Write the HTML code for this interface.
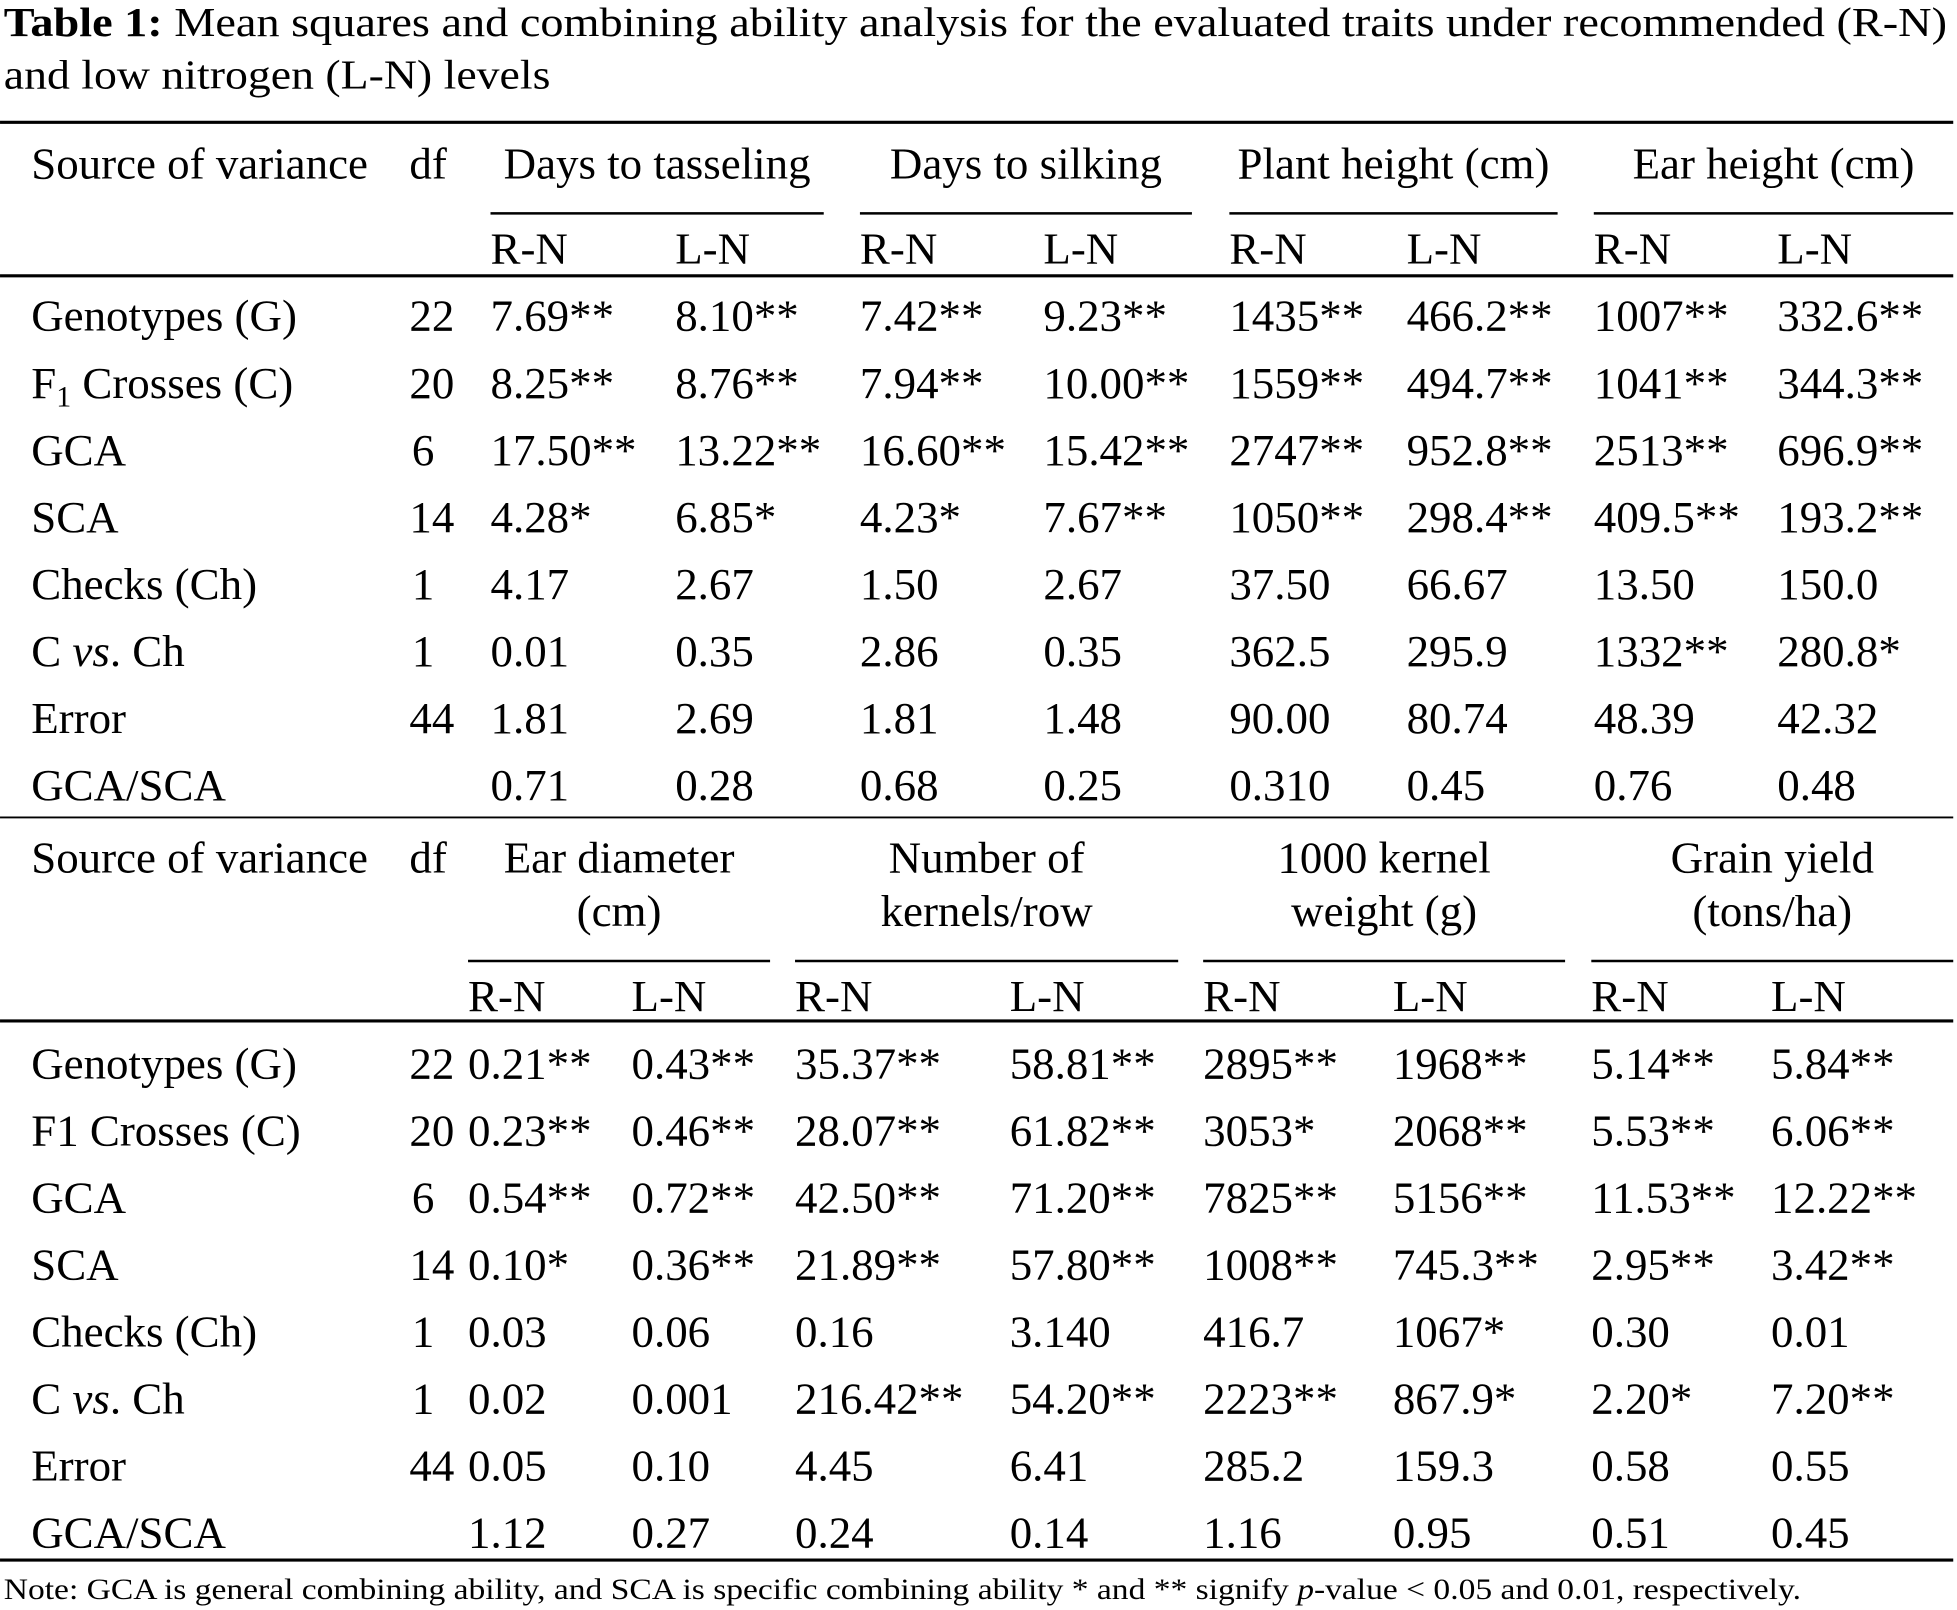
<!DOCTYPE html>
<html><head><meta charset="utf-8"><style>
html,body{margin:0;padding:0;background:#fff;}
svg{display:block;font-family:"Liberation Serif","Times New Roman",serif;}
</style></head><body>
<svg id="s" width="1957" height="1610" viewBox="0 0 1568 1290" xmlns="http://www.w3.org/2000/svg">
<rect width="1568" height="1290" fill="#fff"/>
<text x="3" y="29" font-size="33" textLength="1557" lengthAdjust="spacingAndGlyphs"><tspan font-weight="bold">Table 1:</tspan> Mean squares and combining ability analysis for the evaluated traits under recommended (R-N)</text>
<text x="3" y="71" font-size="33" textLength="438" lengthAdjust="spacingAndGlyphs">and low nitrogen (L-N) levels</text>
<g id="g" font-size="36" fill="#000"></g>
<text x="3" y="1281" font-size="24" textLength="1440" lengthAdjust="spacingAndGlyphs">Note: GCA is general combining ability, and SCA is specific combining ability * and ** signify <tspan font-style="italic">p</tspan>-value &lt; 0.05 and 0.01, respectively.</text>
</svg>
<script>
const sources=["Genotypes (G)","F1 Crosses (C)","GCA","SCA","Checks (Ch)","C vs. Ch","Error","GCA/SCA"];
const dfs=["22","20","6","14","1","1","44",""];
const top1=[
["7.69**","8.10**","7.42**","9.23**","1435**","466.2**","1007**","332.6**"],
["8.25**","8.76**","7.94**","10.00**","1559**","494.7**","1041**","344.3**"],
["17.50**","13.22**","16.60**","15.42**","2747**","952.8**","2513**","696.9**"],
["4.28*","6.85*","4.23*","7.67**","1050**","298.4**","409.5**","193.2**"],
["4.17","2.67","1.50","2.67","37.50","66.67","13.50","150.0"],
["0.01","0.35","2.86","0.35","362.5","295.9","1332**","280.8*"],
["1.81","2.69","1.81","1.48","90.00","80.74","48.39","42.32"],
["0.71","0.28","0.68","0.25","0.310","0.45","0.76","0.48"]];
const bot1=[
["0.21**","0.43**","35.37**","58.81**","2895**","1968**","5.14**","5.84**"],
["0.23**","0.46**","28.07**","61.82**","3053*","2068**","5.53**","6.06**"],
["0.54**","0.72**","42.50**","71.20**","7825**","5156**","11.53**","12.22**"],
["0.10*","0.36**","21.89**","57.80**","1008**","745.3**","2.95**","3.42**"],
["0.03","0.06","0.16","3.140","416.7","1067*","0.30","0.01"],
["0.02","0.001","216.42**","54.20**","2223**","867.9*","2.20*","7.20**"],
["0.05","0.10","4.45","6.41","285.2","159.3","0.58","0.55"],
["1.12","0.27","0.24","0.14","1.16","0.95","0.51","0.45"]];
const g=document.getElementById('g');const NS="http://www.w3.org/2000/svg";
function t(x,y,s,name,anchor){const e=document.createElementNS(NS,'text');e.setAttribute('x',x);e.setAttribute('y',y);if(anchor)e.setAttribute('text-anchor',anchor);


if(s==="F1 Crosses (C)"&&name.indexOf('top')===0){e.innerHTML='F<tspan font-size="24" dy="7">1</tspan><tspan dy="-7"> Crosses (C)</tspan>';}
else if(s==="C vs. Ch"){e.innerHTML='C <tspan font-style="italic">vs</tspan>. Ch';}
else e.textContent=s;g.appendChild(e);return e;}
function line(x1,x2,y,w,name){const l=document.createElementNS(NS,'line');l.setAttribute('x1',x1);l.setAttribute('x2',x2);l.setAttribute('y1',y);l.setAttribute('y2',y);l.setAttribute('stroke','#000');l.setAttribute('stroke-width',w);


g.appendChild(l);}
function section(pre,hy,groups,cols,ranges,rny,rowY0,data,twoLine){
 t(25,hy,"Source of variance",pre+"-source-header");t(328,hy,"df",pre+"-df-header");
 groups.forEach((gr,i)=>{const cx=(ranges[i][0]+ranges[i][1])/2;
  if(twoLine){t(cx,hy,gr[0],pre+"-group-header","middle");t(cx,hy+43,gr[1],pre+"-group-header","middle");}
  else t(cx,hy,gr,pre+"-group-header","middle");
  line(ranges[i][0],ranges[i][1],twoLine?hy+71:hy+28,2,pre+"-group-underline");});
 cols.forEach((x,i)=>t(x,rny,i%2?"L-N":"R-N",pre+"-level-header"));
 sources.forEach((s,r)=>{const y=rowY0+r*53.7;t(25,y,s,pre+"-source-label");if(dfs[r])t(dfs[r].length>1?328:330,y,dfs[r],pre+"-df-value");
  data[r].forEach((v,c)=>t(cols[c],y,v,pre+"-cell"));});
}
line(0,1565,98,2.5,"top-rule");
section("top",143,["Days to tasseling","Days to silking","Plant height (cm)","Ear height (cm)"],[393,541,689,836,985,1127,1277,1424],[[393,660],[689,955],[985,1248],[1277,1565]],211,265,top1,false);
line(0,1565,221,2.5,"top-header-rule");
line(0,1565,655,1.5,"section-divider");
section("bottom",699,[["Ear diameter","(cm)"],["Number of","kernels/row"],["1000 kernel","weight (g)"],["Grain yield","(tons/ha)"]],[375,506,637,809,964,1116,1275,1419],[[375,617],[637,944],[964,1254],[1275,1565]],810,864,bot1,true);
line(0,1565,818,2.5,"bottom-header-rule");
line(0,1565,1250,2.5,"bottom-rule");
</script>
</body></html>
